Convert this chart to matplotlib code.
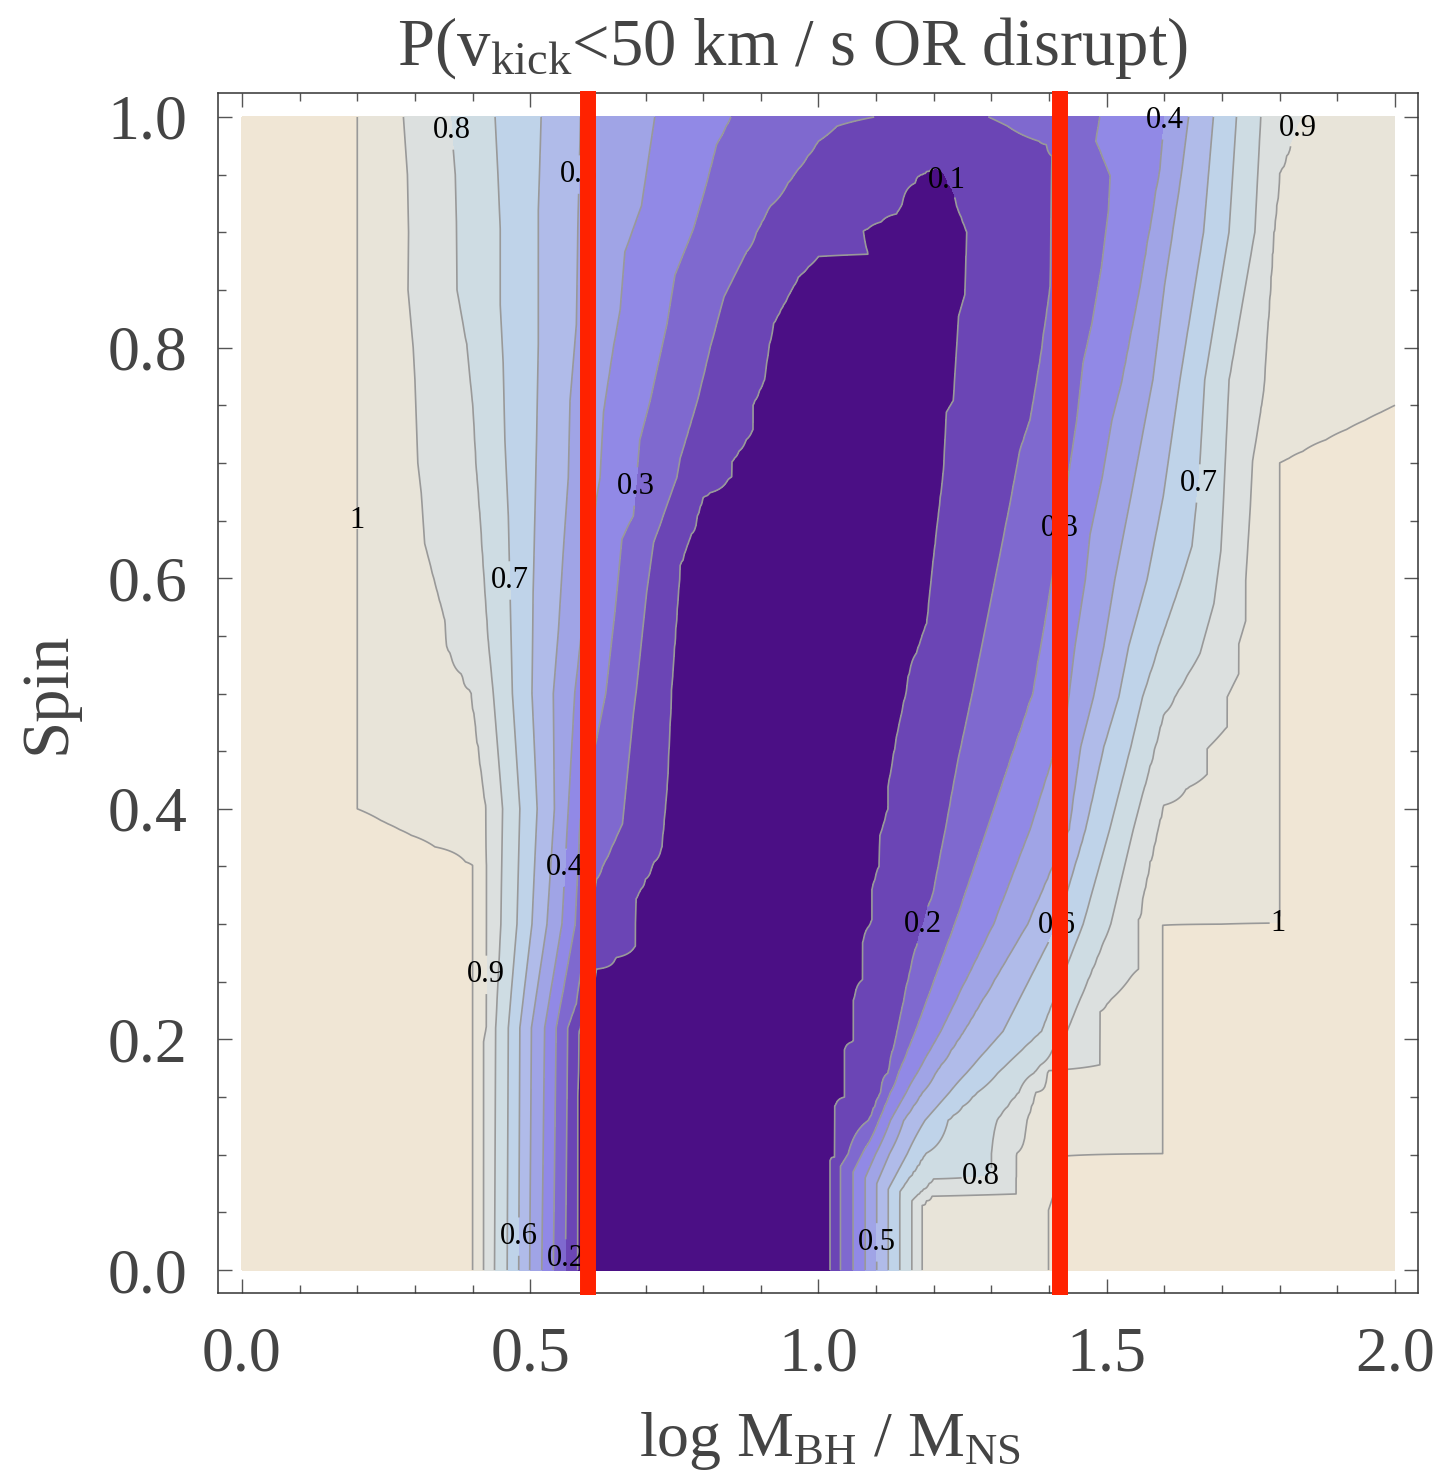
import numpy as np
import matplotlib.pyplot as plt
from matplotlib.ticker import MultipleLocator, FormatStrFormatter

plt.rcParams['font.family'] = ['Liberation Serif', 'DejaVu Serif']
plt.rcParams['mathtext.fontset'] = 'custom'
plt.rcParams['mathtext.rm'] = 'Liberation Serif'
plt.rcParams['mathtext.it'] = 'Liberation Serif:italic'

# contour lines: (spin values, log MBH/MNS positions)
# left flank of the valley, one line per level
left_1_0 = ([0, 0.351, 0.40, 1.0], [0.400, 0.400, 0.200, 0.200])
left_0_9 = ([0, 0.198, 0.211, 0.40, 0.50, 0.541, 0.564, 0.63, 0.674, 0.70, 0.772, 0.80, 0.85, 0.90, 0.95, 1.0],
            [0.419, 0.419, 0.424, 0.424, 0.398, 0.355, 0.352, 0.317, 0.311, 0.305, 0.300, 0.297, 0.288, 0.289, 0.287, 0.280])
left_0_8 = ([0, 0.21, 0.30, 0.40, 0.50, 0.548, 0.654, 0.70, 0.747, 0.803, 0.85, 0.909, 0.95, 1.0],
            [0.438, 0.440, 0.449, 0.452, 0.436, 0.427, 0.413, 0.406, 0.401, 0.390, 0.373, 0.372, 0.370, 0.362])
left_0_7 = ([0, 0.21, 0.30, 0.40, 0.50, 0.588, 0.654, 0.72, 0.787, 0.837, 0.903, 0.95, 1.0],
            [0.460, 0.462, 0.477, 0.482, 0.469, 0.465, 0.462, 0.456, 0.453, 0.448, 0.448, 0.444, 0.439])
left_0_6 = ([0, 0.21, 0.30, 0.40, 0.50, 0.588, 0.654, 0.72, 0.803, 0.919, 0.95, 1.0],
            [0.480, 0.482, 0.503, 0.512, 0.503, 0.505, 0.508, 0.511, 0.514, 0.514, 0.516, 0.519])
left_0_5 = ([0, 0.21, 0.30, 0.40, 0.50, 0.555, 0.621, 0.687, 0.754, 0.82, 0.919, 1.0],
            [0.499, 0.502, 0.529, 0.542, 0.540, 0.549, 0.557, 0.566, 0.569, 0.580, 0.583, 0.587])
left_0_4 = ([0, 0.21, 0.30, 0.40, 0.50, 0.67, 0.687, 0.744, 0.80, 0.833, 0.883, 0.923, 1.0],
            [0.520, 0.525, 0.555, 0.566, 0.577, 0.615, 0.621, 0.627, 0.644, 0.656, 0.664, 0.693, 0.716])
left_0_3 = ([0, 0.21, 0.30, 0.39, 0.50, 0.571, 0.634, 0.654, 0.72, 0.754, 0.82, 0.863, 0.903, 0.943, 0.976, 1.0],
            [0.540, 0.545, 0.578, 0.586, 0.631, 0.647, 0.659, 0.679, 0.690, 0.708, 0.737, 0.751, 0.783, 0.806, 0.823, 0.848])
left_0_2 = ([0, 0.21, 0.231, 0.30, 0.339, 0.387, 0.483, 0.503, 0.588, 0.631, 0.687, 0.704, 0.754, 0.80, 0.844,
             0.882, 0.921, 0.950, 0.979, 0.992, 1.0],
            [0.561, 0.565, 0.580, 0.600, 0.615, 0.660, 0.679, 0.684, 0.702, 0.714, 0.754, 0.760, 0.790, 0.812, 0.836,
             0.874, 0.914, 0.958, 1.000, 1.032, 1.097])
left_0_1 = ([0, 0.204, 0.235, 0.261, 0.281, 0.322, 0.367, 0.417, 0.503, 0.555, 0.611, 0.656, 0.670, 0.688, 0.701,
             0.729, 0.750, 0.772, 0.801, 0.821, 0.861, 0.879, 0.881, 0.901, 0.916, 0.949, 0.955],
            [0.581, 0.583, 0.598, 0.615, 0.682, 0.683, 0.728, 0.737, 0.745, 0.752, 0.760, 0.791, 0.800, 0.849, 0.850,
             0.886, 0.886, 0.906, 0.914, 0.922, 0.965, 1.000, 1.086, 1.078, 1.136, 1.176, 1.203])

# right flank
right_0_1 = ([0, 0.095, 0.098, 0.142, 0.150, 0.191, 0.199, 0.234, 0.252, 0.284, 0.304, 0.330, 0.350, 0.377, 0.40,
              0.419, 0.468, 0.50, 0.515, 0.561, 0.614, 0.694, 0.744, 0.754, 0.827, 0.846, 0.900, 0.951, 0.955],
             [1.020, 1.020, 1.029, 1.029, 1.045, 1.045, 1.061, 1.061, 1.077, 1.077, 1.093, 1.093, 1.105, 1.107, 1.121,
              1.121, 1.138, 1.152, 1.156, 1.188, 1.199, 1.217, 1.222, 1.234, 1.243, 1.254, 1.257, 1.217, 1.203])
right_0_2 = ([0, 0.09, 0.134, 0.171, 0.217, 0.271, 0.327, 0.387, 0.437, 0.503, 0.578, 0.621, 0.664, 0.710, 0.737,
              0.787, 0.853, 0.966, 0.976, 1.0],
             [1.038, 1.038, 1.092, 1.121, 1.141, 1.164, 1.199, 1.222, 1.240, 1.268, 1.298, 1.315, 1.332, 1.349, 1.367,
              1.384, 1.402, 1.405, 1.395, 1.295])
right_0_3 = ([0, 0.085, 0.13, 0.207, 0.30, 0.382, 0.50, 0.571, 0.687, 0.737, 0.787, 0.82, 0.87, 0.919, 0.949, 0.979, 1.0],
             [1.060, 1.060, 1.105, 1.168, 1.236, 1.292, 1.372, 1.396, 1.433, 1.448, 1.459, 1.474, 1.491, 1.503, 1.506,
              1.481, 1.488])
right_0_4 = ([0, 0.08, 0.13, 0.207, 0.30, 0.382, 0.483, 0.541, 0.599, 0.638, 0.687, 0.737, 0.770, 0.853, 0.903, 0.953, 1.0],
             [1.081, 1.081, 1.125, 1.212, 1.304, 1.367, 1.431, 1.445, 1.463, 1.471, 1.492, 1.509, 1.526, 1.558, 1.575,
              1.592, 1.601])
right_0_5 = ([0, 0.075, 0.13, 0.207, 0.30, 0.382, 0.454, 0.497, 0.541, 0.599, 0.671, 0.772, 0.853, 0.903, 0.953, 1.0],
             [1.101, 1.101, 1.148, 1.252, 1.363, 1.435, 1.455, 1.477, 1.495, 1.514, 1.542, 1.580, 1.600, 1.615, 1.630, 1.642])
right_0_6 = ([0, 0.07, 0.13, 0.207, 0.30, 0.382, 0.454, 0.497, 0.541, 0.599, 0.671, 0.772, 0.90, 1.0],
             [1.121, 1.121, 1.185, 1.320, 1.415, 1.463, 1.495, 1.521, 1.538, 1.570, 1.598, 1.627, 1.668, 1.685])
right_0_7 = ([0, 0.068, 0.13, 0.207, 0.30, 0.382, 0.454, 0.497, 0.541, 0.599, 0.628, 0.686, 0.772, 0.90, 1.0],
             [1.141, 1.141, 1.225, 1.387, 1.459, 1.505, 1.542, 1.562, 1.590, 1.630, 1.648, 1.660, 1.670, 1.712, 1.725])
right_0_8 = ([0, 0.06, 0.079, 0.081, 0.101, 0.13, 0.207, 0.30, 0.382, 0.481, 0.497, 0.535, 0.578, 0.624, 0.662,
              0.772, 0.90, 1.0],
             [1.162, 1.162, 1.199, 1.300, 1.300, 1.310, 1.431, 1.507, 1.546, 1.598, 1.618, 1.662, 1.686, 1.698, 1.702,
              1.712, 1.757, 1.767])
right_0_9 = ([0, 0.056, 0.064, 0.066, 0.101, 0.154, 0.173, 0.174, 0.178, 0.224, 0.261, 0.304, 0.354, 0.403, 0.43,
              0.452, 0.471, 0.497, 0.517, 0.543, 0.563, 0.598, 0.662, 0.702, 0.763, 0.90, 0.951, 1.0],
             [1.179, 1.179, 1.196, 1.343, 1.343, 1.376, 1.399, 1.430, 1.488, 1.488, 1.555, 1.555, 1.575, 1.598, 1.674,
              1.674, 1.709, 1.709, 1.729, 1.729, 1.741, 1.741, 1.749, 1.753, 1.772, 1.790, 1.800, 1.837])
right_1_0 = ([0, 0.052, 0.099, 0.101, 0.299, 0.301, 0.70, 0.75],
             [1.399, 1.399, 1.430, 1.597, 1.597, 1.800, 1.800, 2.000])

line_levels = [0.1, 0.2, 0.3, 0.4, 0.5, 0.6, 0.7, 0.8, 0.9, 1.0]
band_colors = ['#4b0f85', '#6b45b5', '#7f69cf', '#9189e6', '#a0a4e6', '#b0bbe9',
               '#bfd3e9', '#cedce3', '#dce0df', '#e8e4d9', '#f0e6d5']

# cuts from the other panels
cut_lines = [0.601, 1.419]

# label spots of the contour values
label_spots = [(0.357, 0.988), (0.59, 0.950), (1.214, 0.944), (1.601, 0.997), (1.839, 0.989),
               (0.673, 0.680), (0.200, 0.650), (0.463, 0.598), (1.419, 0.643), (1.662, 0.682),
               (0.555, 0.349), (1.183, 0.299), (1.415, 0.299), (1.797, 0.299), (0.423, 0.256),
               (1.282, 0.078), (0.479, 0.029), (0.557, 0.010), (1.098, 0.024)]

left_lines = list(zip([1.0, 0.9, 0.8, 0.7, 0.6, 0.5, 0.4, 0.3, 0.2, 0.1],
                      [left_1_0, left_0_9, left_0_8, left_0_7, left_0_6,
                       left_0_5, left_0_4, left_0_3, left_0_2, left_0_1]))
right_lines = list(zip(line_levels,
                       [right_0_1, right_0_2, right_0_3, right_0_4, right_0_5,
                        right_0_6, right_0_7, right_0_8, right_0_9, right_1_0]))


def row_values(y, xf):
    lx, lz = [], []
    for lev, (ys, xs) in left_lines:
        if y <= ys[-1] + 1e-9:
            lx.append(np.interp(y, ys, xs))
            lz.append(lev)
    rx, rz = [], []
    for lev, (ys, xs) in right_lines:
        if y <= ys[-1] + 1e-9:
            rx.append(np.interp(y, ys, xs))
            rz.append(lev)
    # keep the slope going past the outer line so the outline stays straight between rows
    slope = 0.1 / max(lx[1] - lx[0], 0.01)
    kx = [-0.1] + lx
    kz = [1.0 + slope * (lx[0] + 0.1)] + lz
    if rx[0] - lx[-1] > 1e-3:
        kx.append(0.5 * (rx[0] + lx[-1]))
        kz.append(lz[-1] - 0.08)
    kx += rx
    kz += rz
    if rz[-1] == 1.0:
        slope = 0.1 / max(rx[-1] - rx[-2], 0.01)
        kx.append(2.1)
        kz.append(1.0 + slope * (2.1 - rx[-1]))
    else:
        kx.append(2.01)
        kz.append(0.99)
    kx = np.array(kx)
    for i in range(1, len(kx)):
        if kx[i] <= kx[i - 1]:
            kx[i] = kx[i - 1] + 1e-4
    return np.interp(xf, kx, kz)


xf = np.linspace(0, 2, 801)
spins = np.unique(np.concatenate([tr[0] for _, tr in left_lines + right_lines] + [[0.0, 1.0]]))
Z = np.array([row_values(y, xf) for y in spins])

fig = plt.figure(figsize=(14.54, 14.74), dpi=100)
ax = fig.add_axes([218 / 1454, 181 / 1474, 1200 / 1454, 1200 / 1474])

ax.contourf(xf, spins, Z, levels=[-1] + line_levels + [9], colors=band_colors)
cs = ax.contour(xf, spins, Z, levels=line_levels, colors='#999999', linewidths=1.2)


def fmt(v):
    return '1' if abs(v - 1) < 1e-9 else f'{v:.1f}'


labels = ax.clabel(cs, manual=label_spots, inline=True, inline_spacing=1,
                   fmt=fmt, fontsize=22, colors='k')
for t in labels:
    t.set_rotation(0)

for xc in cut_lines:
    ax.axvline(xc, ymin=-0.002, ymax=1.002, color='#ff2200', lw=11.5, clip_on=False,
               solid_capstyle='butt', zorder=5)

ax.set_xlim(-0.0416, 2.0399)
ax.set_ylim(-0.0199, 1.0208)
ax.xaxis.set_major_locator(MultipleLocator(0.5))
ax.xaxis.set_minor_locator(MultipleLocator(0.1))
ax.yaxis.set_major_locator(MultipleLocator(0.2))
ax.yaxis.set_minor_locator(MultipleLocator(0.05))
ax.xaxis.set_major_formatter(FormatStrFormatter('%.1f'))
ax.yaxis.set_major_formatter(FormatStrFormatter('%.1f'))
ax.tick_params(which='both', direction='in', top=True, right=True, color='#555555', width=1)
ax.tick_params(which='major', length=10)
ax.tick_params(which='minor', length=5.5)
ax.tick_params(axis='x', which='major', labelsize=46, labelcolor='#444444', pad=24)
ax.tick_params(axis='y', which='major', labelsize=46, labelcolor='#444444', pad=22)
for s in ax.spines.values():
    s.set_color('#333333')
    s.set_linewidth(1.1)

fig.text(792 / 1454, 1 - 65 / 1474, r'P(v$_{\mathrm{kick}}$<50 km / s OR disrupt)',
         ha='center', va='baseline', fontsize=48, color='#444444')
fig.text(830 / 1454, 1 - 1456 / 1474, r'log M$_{\mathrm{BH}}$ / M$_{\mathrm{NS}}$',
         ha='center', va='baseline', fontsize=46, color='#444444')
fig.text(48 / 1454, 1 - 693 / 1474, 'Spin', rotation=90, ha='center', va='center',
         fontsize=48, color='#444444')

fig.savefig('out.png', dpi=100)
